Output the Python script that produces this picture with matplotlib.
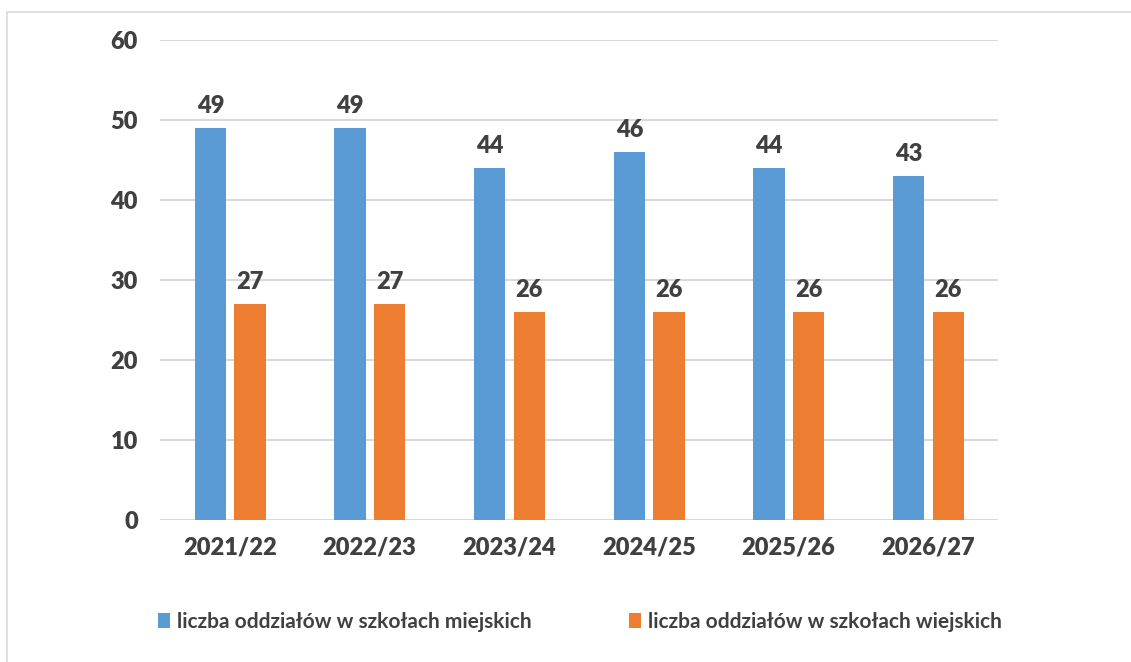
import matplotlib
matplotlib.use("Agg")
import matplotlib.pyplot as plt
import numpy as np
from matplotlib.patches import Rectangle

plt.rcParams["font.family"] = ["Lato", "DejaVu Sans"]

years = ["2021/22", "2022/23", "2023/24", "2024/25", "2025/26", "2026/27"]
urban = [49, 49, 44, 46, 44, 43]
rural = [27, 27, 26, 26, 26, 26]
series_names = ["liczba oddziałów w szkołach miejskich",
                "liczba oddziałów w szkołach wiejskich"]

BLUE = "#5B9BD5"
ORANGE = "#ED7D31"
TEXT = "#404040"

W, H = 1131, 662
fig = plt.figure(figsize=(W / 100, H / 100), dpi=100)

# outer chart-area border (runs off the right and bottom edges)
fig.patches.append(Rectangle((7 / W, -0.05), 1.2, 1 - 12 / H + 0.05,
                             transform=fig.transFigure, fill=False,
                             edgecolor="#D9D9D9", linewidth=1.2))

ax = fig.add_axes([160 / W, 1 - 520 / H, (998 - 160) / W, 480 / H])

x = np.arange(len(years))
bw = 0.225
b1 = ax.bar(x - 0.139, urban, bw, color=BLUE, label=series_names[0], zorder=3)
b2 = ax.bar(x + 0.145, rural, bw, color=ORANGE, label=series_names[1], zorder=3)

for bars in (b1, b2):
    for rect in bars:
        ax.annotate(f"{rect.get_height():.0f}",
                    (rect.get_x() + rect.get_width() / 2, rect.get_height()),
                    xytext=(0, 8), textcoords="offset points",
                    ha="center", va="bottom", fontsize=17, fontweight="heavy",
                    color=TEXT)

ax.set_xlim(-0.5, len(years) - 0.5)
ax.set_ylim(0, 60)
ax.set_yticks(range(0, 61, 10))
ax.set_xticks(x)
ax.set_xticklabels(years)
ax.grid(axis="y", color="#D9D9D9", linewidth=1.5, zorder=0)
for s in ax.spines.values():
    s.set_visible(False)
ax.tick_params(length=0, labelsize=17, labelcolor=TEXT)
ax.tick_params(axis="y", pad=16)
ax.tick_params(axis="x", pad=12)
for lab in ax.get_xticklabels() + ax.get_yticklabels():
    lab.set_fontweight("heavy")

leg = fig.legend(loc="center", bbox_to_anchor=(580 / W, 1 - 622 / H), ncol=2,
                 frameon=False, fontsize=15, handlelength=0.55, handleheight=0.7,
                 handletextpad=0.35, columnspacing=4.7)
for t in leg.get_texts():
    t.set_color(TEXT)
    t.set_fontweight("bold")

fig.savefig("out.png", dpi=100)
